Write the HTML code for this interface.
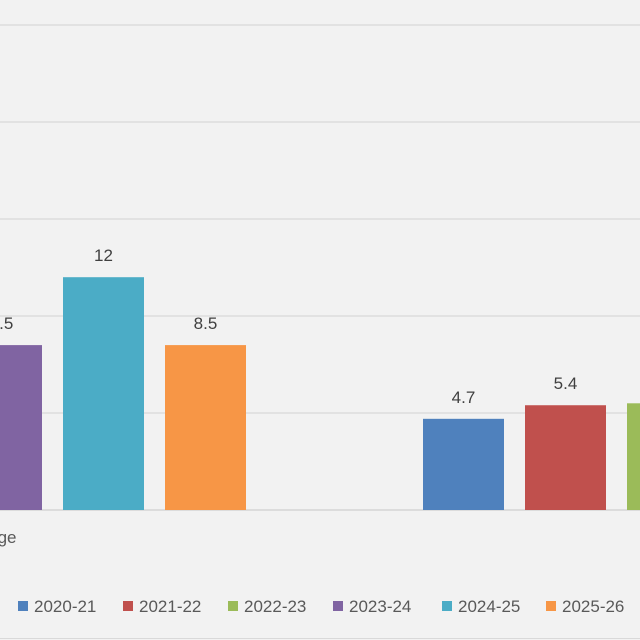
<!DOCTYPE html>
<html><head><meta charset="utf-8"><style>
html,body{margin:0;padding:0;background:#f2f2f2;}
svg{display:block;font-family:"Liberation Sans",sans-serif;}
</style></head><body>
<svg id="chart" width="640" height="640"></svg>
<script>
const categories=["Percentage","Average"];
const series=["2020-21","2021-22","2022-23","2023-24","2024-25","2025-26"];
const colors=["#4f81bd","#c0504d","#9bbb59","#8064a2","#4bacc6","#f79646"];
const values=[[6.0,7.5,8.0,8.5,12,8.5],[4.7,5.4,5.5,6.0,6.5,5.0]];
const ticks=[0,5,10,15,20,25];
const NS="http://www.w3.org/2000/svg";
const svg=document.getElementById('chart');
function el(t,a){const e=document.createElementNS(NS,t);for(const k in a)e.setAttribute(k,a[k]);return e;}
const y0=510,pu=19.4;
function yS(v){return y0-v*pu;}
const catW=768,cat0=-39,barStep=102,barW=81;
function xC(i){return cat0+i*catW;}
svg.appendChild(el('rect',{x:0,y:0,width:640,height:640,fill:'#f2f2f2'}));
ticks.forEach(t=>{
  const g=el('line',{x1:0,x2:640,y1:yS(t),y2:yS(t),stroke:t===0?'#d0d0d0':'#d9d9d9','stroke-width':1.3});
  
  
  svg.appendChild(g);
});
categories.forEach((c,ci)=>{
  series.forEach((s,si)=>{
    const v=values[ci][si];
    const x=xC(ci)-3*barStep+si*barStep+(barStep-barW)/2-10.5;
    const r=el('rect',{x:x,y:yS(v),width:barW,height:y0-yS(v),fill:colors[si]});
    
    
    svg.appendChild(r);
    const t=el('text',{x:x+barW/2,y:yS(v)-16,'text-anchor':'middle','font-size':17,fill:'#404040'});
    t.textContent=v;
    
    
    svg.appendChild(t);
  });
  const ct=el('text',{x:xC(ci)+12,y:543,'text-anchor':'middle','font-size':17,fill:'#595959'});
  ct.textContent=c;
  
  
  svg.appendChild(ct);
});
const lx=[18,123,228,333,442,546];
series.forEach((s,i)=>{
  const r=el('rect',{x:lx[i],y:601,width:10,height:10,fill:colors[i]});
  
  
  svg.appendChild(r);
  const t=el('text',{x:lx[i]+16,y:612,'font-size':17,fill:'#595959'});
  t.textContent=s;
  
  
  svg.appendChild(t);
});
svg.appendChild(el('line',{x1:0,x2:640,y1:638.5,y2:638.5,stroke:'#d9d9d9','stroke-width':1}));
</script>
</body></html>
